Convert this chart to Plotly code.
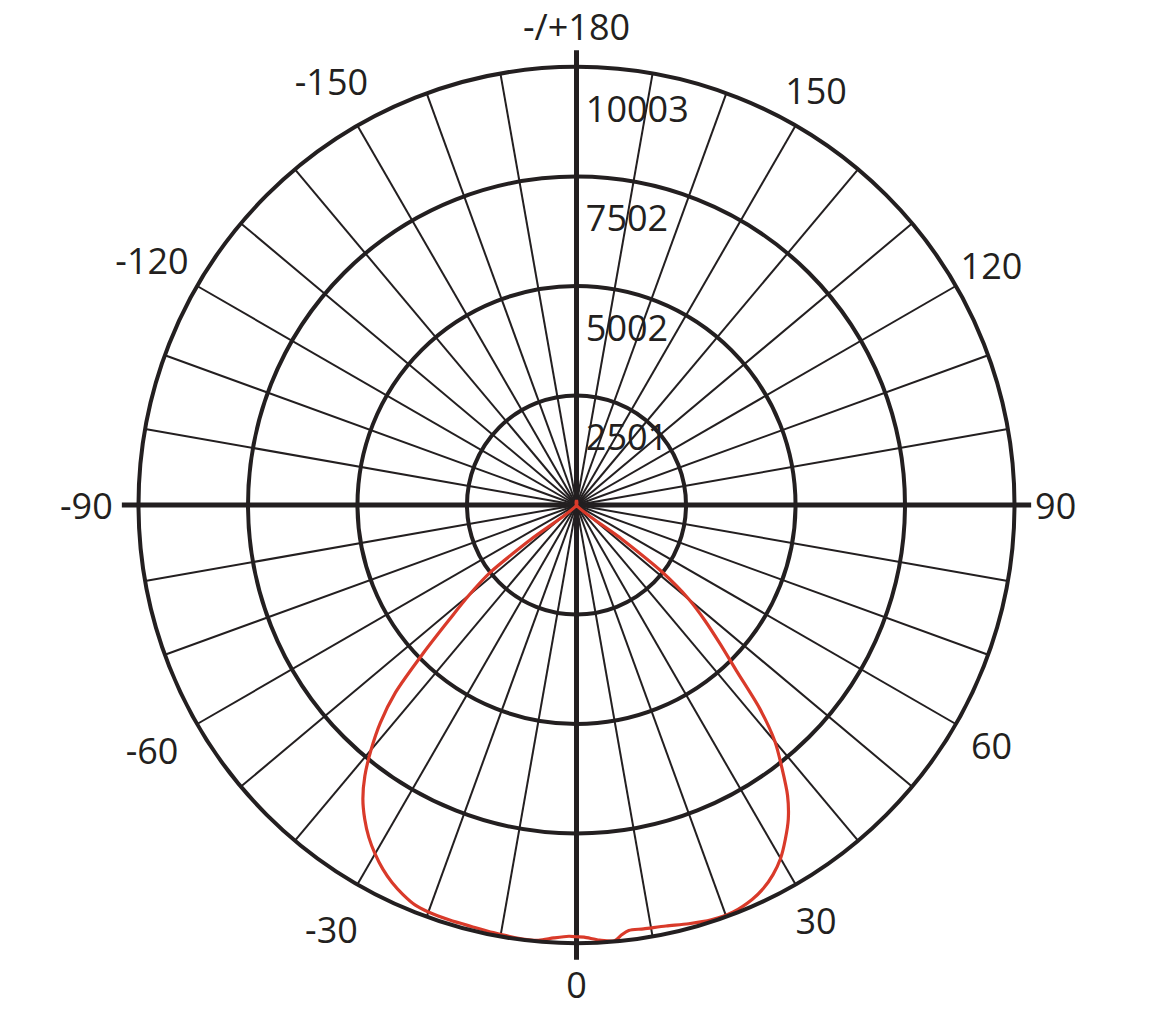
import plotly.graph_objects as go

# luminous intensity distribution (cd), gamma angle in degrees, 0 = straight down
angles = [-180, -54, -53, -52, -50, -48, -46, -44, -42, -40, -38, -36, -34, -32,
          -30, -28, -26, -24, -22, -20, -17, -14, -11, -8, -5, -3, -1,
          0, 1, 3, 5, 6, 7, 9, 12, 15, 18, 21, 24, 26, 28, 30, 32, 34, 36,
          38, 40, 42, 44, 46, 48, 50, 52, 53, 54, 180]
intensity = [110, 0, 1300, 2500, 3200, 3900, 4850, 5950, 6700, 7300, 7850, 8300, 8650, 8950,
             9200, 9420, 9600, 9740, 9850, 9890, 9910, 9920, 9950, 9980, 9980, 9900, 9850,
             9860, 9870, 9950, 9990, 9870, 9790, 9800, 9830, 9900, 9960, 9960, 9860, 9740, 9560, 9320, 9000, 8650, 8200,
             7620, 7050, 6250, 5250, 4550, 3950, 3350, 2450, 1300, 0, 110]

ring_values = [2501, 5002, 7502, 10003]
spoke_angles = list(range(0, 360, 10))
label_angles = [0, 30, 60, 90, 120, 150, 180, 210, 240, 270, 300, 330]
label_texts = ["0", "30", "60", "90", "120", "150", "-/+180", "-150", "-120", "-90", "-60", "-30"]

BLACK = "#231f20"
RED = "#d93a2a"
FONT = "Open Sans, Noto Sans, sans-serif"

W, H = 1174, 1009
R = 438          # outer circle radius, px
R_LAB = 495      # radius of the invisible label subplot, px
CX, CY = 576.5, 505  # circle centre in pixels (from top-left)


def domain(rad, dy=0):
    return dict(x=[(CX - rad) / W, (CX + rad) / W],
                y=[(H - CY - dy - rad) / H, (H - CY - dy + rad) / H])


dom = domain(R)
rmax = ring_values[-1]

fig = go.Figure()

# red intensity curve
fig.add_trace(go.Scatterpolar(
    r=intensity, theta=angles, mode="lines",
    line=dict(color=RED, width=3.2, shape="spline", smoothing=0.8),
    hoverinfo="skip", showlegend=False,
))

# ring value labels along the 180 line
fig.add_trace(go.Scatterpolar(
    r=[v - 1050 for v in ring_values], theta=[180] * len(ring_values),
    mode="text", text=[" " + str(v) for v in ring_values],
    textposition="middle right",
    textfont=dict(family=FONT, size=36, color=BLACK),
    cliponaxis=False, hoverinfo="skip", showlegend=False,
))

# angle labels, on a wider invisible polar subplot sharing the centre;
# the negative side sits a little further out
fig.add_trace(go.Scatterpolar(
    r=[rmax * (1.119 if a > 180 else 1.094) for a in label_angles],
    theta=label_angles, subplot="polar2",
    mode="text", text=label_texts, textposition="middle center",
    textfont=dict(family=FONT, size=36, color=BLACK),
    cliponaxis=False, hoverinfo="skip", showlegend=False,
))

# thick main cross (0/180 and -90/90), a bit longer than the outer circle
cx = (dom["x"][0] + dom["x"][1]) / 2
cy = (dom["y"][0] + dom["y"][1]) / 2
rx = (dom["x"][1] - dom["x"][0]) / 2
ry = (dom["y"][1] - dom["y"][0]) / 2
ext = 1.038
shapes = [
    dict(type="line", xref="paper", yref="paper", layer="below",
         x0=cx, x1=cx, y0=cy - ry * ext, y1=cy + ry * ext,
         line=dict(color=BLACK, width=5)),
    dict(type="line", xref="paper", yref="paper", layer="below",
         x0=cx - rx * ext, x1=cx + rx * ext, y0=cy, y1=cy,
         line=dict(color=BLACK, width=5)),
]

hidden_angular = dict(rotation=270, direction="counterclockwise",
                      showline=False, showgrid=False, showticklabels=False, ticks="")
hidden_radial = dict(range=[0, rmax * R_LAB / R], showline=False, showgrid=False,
                     showticklabels=False, ticks="")

fig.update_layout(
    width=W, height=H,
    margin=dict(l=0, r=0, t=0, b=0),
    paper_bgcolor="white",
    font=dict(family=FONT, color=BLACK),
    shapes=shapes,
    polar=dict(
        domain=dom,
        bgcolor="rgba(0,0,0,0)",
        angularaxis=dict(
            rotation=270, direction="counterclockwise",
            tickmode="array", tickvals=spoke_angles,
            showticklabels=False, ticks="",
            showline=True, linecolor=BLACK, linewidth=4,
            showgrid=True, gridcolor=BLACK, gridwidth=1.8,
        ),
        radialaxis=dict(
            range=[0, rmax],
            tickmode="array", tickvals=ring_values,
            showticklabels=False, ticks="",
            showline=False,
            showgrid=True, gridcolor=BLACK, gridwidth=4,
        ),
    ),
    polar2=dict(
        domain=domain(R_LAB, dy=5),
        bgcolor="rgba(0,0,0,0)",
        angularaxis=hidden_angular,
        radialaxis=hidden_radial,
    ),
)

# drop the default body margin so the figure fills the window exactly
fig.write_html("out.html", config={"displayModeBar": False},
               post_script="document.body.style.margin='0';")
